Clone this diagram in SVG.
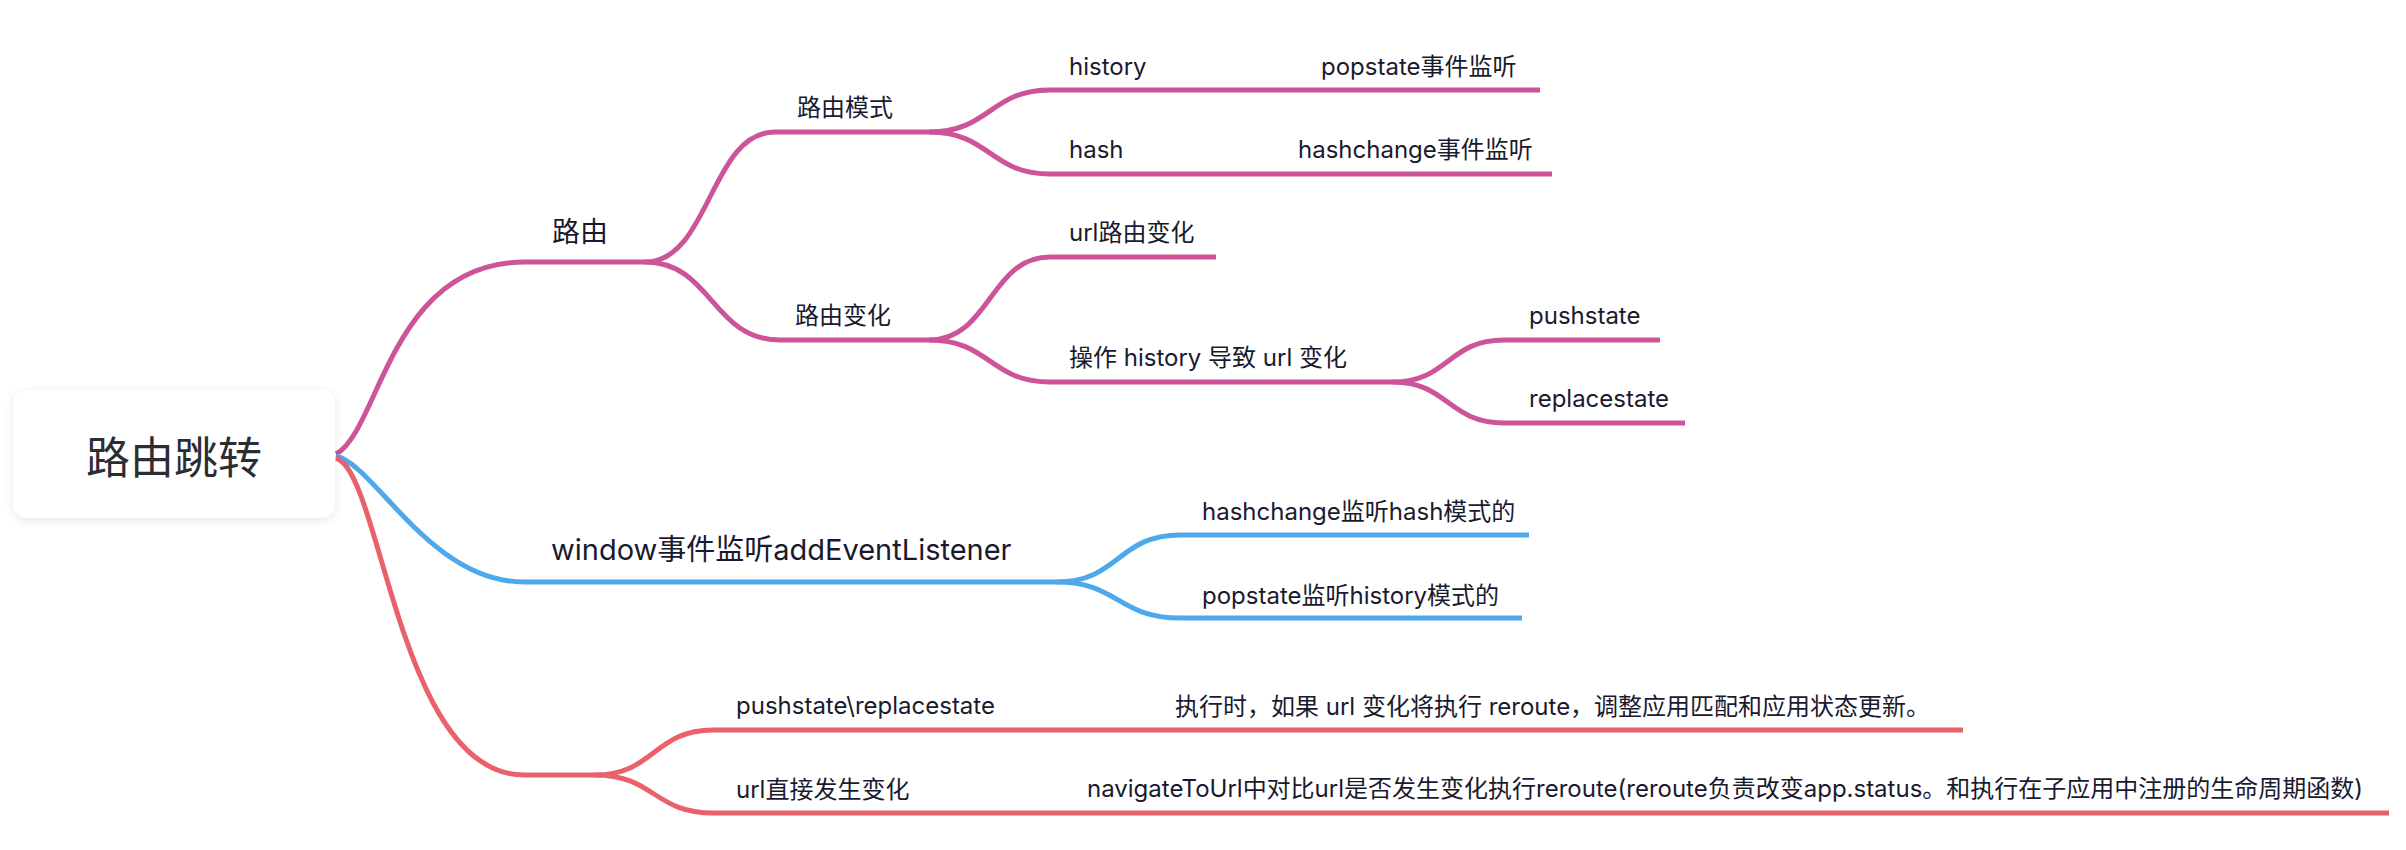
<svg xmlns="http://www.w3.org/2000/svg" width="2406" height="850" viewBox="0 0 2406 850">
<defs>
<filter id="sh" x="-10%" y="-20%" width="120%" height="140%">
<feDropShadow dx="0" dy="2" stdDeviation="4" flood-color="#000" flood-opacity="0.10"/>
</filter>
</defs>
<style>
.t{font-family:Inter,"Noto Sans CJK SC",sans-serif;fill:#1a1a2e;font-size:24px}
.l1{font-size:28px}
.w{font-size:29px}
.root{font-family:"Noto Sans CJK SC",sans-serif;fill:#2b2d33;font-size:44px}
.c{fill:none;stroke-width:5;stroke-linecap:butt}
.pk{stroke:#cd5498}
.bl{stroke:#4ea9ec}
.rd{stroke:#e8616b}
</style>
<rect width="2406" height="850" fill="#ffffff"/>
<g id="connectors">
<path class="c pk" d="M336,454 C380,430 390,262 525,262"/>
<path class="c bl" d="M336,456 C375,465 430,582 524,582"/>
<path class="c rd" d="M336,458 C382,472 398,775 524,775"/>
<path class="c pk" d="M525,262 H645"/>
<path class="c pk" d="M645,262 C710,262 710,132 775,132 H929"/>
<path class="c pk" d="M645,262 C712,262 712,340 780,340 H929"/>
<path class="c pk" d="M929,132 C990,132 990,90 1050,90 H1165"/>
<path class="c pk" d="M1165,90 H1540"/>
<path class="c pk" d="M929,132 C990,132 990,174 1050,174 H1142"/>
<path class="c pk" d="M1142,174 H1552"/>
<path class="c pk" d="M929,340 C990,340 990,257 1050,257 H1216"/>
<path class="c pk" d="M929,340 C990,340 990,382 1050,382 H1393"/>
<path class="c pk" d="M1393,382 C1448,382 1448,340 1504,340 H1660"/>
<path class="c pk" d="M1393,382 C1448,382 1448,423 1504,423 H1685"/>
<path class="c bl" d="M524,582 H1057"/>
<path class="c bl" d="M1057,582 C1118,582 1118,535 1180,535 H1529"/>
<path class="c bl" d="M1057,582 C1118,582 1118,618 1180,618 H1522"/>
<path class="c rd" d="M524,775 H595"/>
<path class="c rd" d="M595,775 C654,775 654,730 713,730 H1016"/>
<path class="c rd" d="M1016,730 H1963"/>
<path class="c rd" d="M595,775 C654,775 654,813 713,813 H927"/>
<path class="c rd" d="M927,813 H2389"/>
</g>
<g id="root">
<rect x="13" y="390" width="322" height="128" rx="14" fill="#ffffff" filter="url(#sh)"/>
<text class="root" x="174" y="474" text-anchor="middle">路由跳转</text>
</g>
<g id="n-luyou"><text class="t l1" x="552" y="242">路由</text></g>
<g id="n-mode"><text class="t" x="797" y="116">路由模式</text></g>
<g id="n-history"><text class="t" x="1069" y="75">history</text></g>
<g id="n-popstate"><text class="t" x="1321" y="75">popstate事件监听</text></g>
<g id="n-hash"><text class="t" x="1069" y="158">hash</text></g>
<g id="n-hashchange"><text class="t" x="1298" y="158">hashchange事件监听</text></g>
<g id="n-change"><text class="t" x="795" y="324">路由变化</text></g>
<g id="n-url"><text class="t" x="1069" y="241">url路由变化</text></g>
<g id="n-op"><text class="t" x="1069" y="366">操作 history 导致 url 变化</text></g>
<g id="n-push"><text class="t" x="1529" y="324">pushstate</text></g>
<g id="n-replace"><text class="t" x="1529" y="407">replacestate</text></g>
<g id="n-window"><text class="t w" x="551" y="560">window事件监听addEventListener</text></g>
<g id="n-hc"><text class="t" x="1202" y="520">hashchange监听hash模式的</text></g>
<g id="n-ps"><text class="t" x="1202" y="604">popstate监听history模式的</text></g>
<g id="n-red"></g>
<g id="n-pr"><text class="t" x="736" y="714">pushstate\replacestate</text></g>
<g id="n-pr-desc"><text class="t" x="1175" y="715">执行时，如果 url 变化将执行 reroute，调整应用匹配和应用状态更新。</text></g>
<g id="n-direct"><text class="t" x="736" y="798">url直接发生变化</text></g>
<g id="n-direct-desc"><text class="t" x="1087" y="797">navigateToUrl中对比url是否发生变化执行reroute(reroute负责改变app.status。和执行在子应用中注册的生命周期函数)</text></g>
</svg>
